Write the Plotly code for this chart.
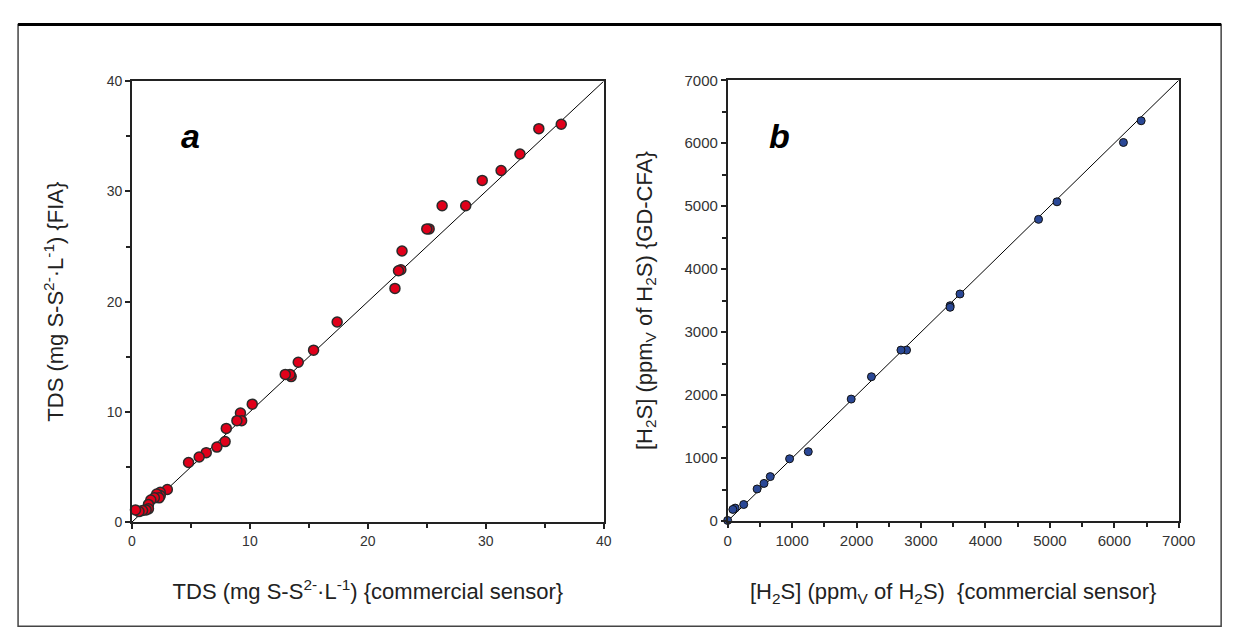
import plotly.graph_objects as go

# panel a: TDS, commercial sensor vs FIA (mg S-S2-/L)
tds_sensor = [36.4, 34.5, 32.9, 31.3, 29.7, 28.3, 26.3, 25.2, 25.0, 22.9, 22.8, 22.6, 22.3,
              17.4, 15.4, 14.1, 13.5, 13.4, 13.0, 10.2, 9.2, 9.3, 8.9, 8.0, 7.9, 7.2,
              6.3, 5.7, 4.8, 3.0, 2.4, 2.4, 2.1, 2.3, 1.9, 1.6, 1.4, 1.4, 1.2, 0.9, 0.6, 0.3]
tds_fia = [36.1, 35.7, 33.4, 31.9, 31.0, 28.7, 28.7, 26.6, 26.6, 24.6, 22.9, 22.8, 21.2,
           18.15, 15.6, 14.5, 13.2, 13.4, 13.4, 10.7, 9.9, 9.2, 9.2, 8.5, 7.3, 6.8,
           6.3, 5.9, 5.4, 2.95, 2.7, 2.4, 2.55, 2.2, 2.2, 2.0, 1.6, 1.2, 1.1, 1.05, 0.95, 1.1]

# panel b: H2S, commercial sensor vs GD-CFA (ppmv)
h2s_sensor = [6416, 6141, 5110, 4824, 3605, 3452, 3452, 2776, 2689, 2231, 1917,
              1251, 961, 661, 564, 457, 249, 117, 81, 0]
h2s_cfa = [6357, 6012, 5070, 4791, 3606, 3420, 3395, 2715, 2715, 2292, 1937,
           1102, 989, 706, 598, 510, 263, 206, 185, 10]

font = "Liberation Sans, Arial, sans-serif"

fig = go.Figure()

fig.add_trace(go.Scatter(x=[0, 40], y=[0, 40], mode="lines",
                         line=dict(color="black", width=1), xaxis="x", yaxis="y",
                         showlegend=False, hoverinfo="skip"))
fig.add_trace(go.Scatter(x=tds_sensor, y=tds_fia, mode="markers", xaxis="x", yaxis="y",
                         marker=dict(size=10, color="#e0001a", line=dict(color="#2a2a2a", width=1.5)),
                         cliponaxis=False, showlegend=False))

fig.add_trace(go.Scatter(x=[0, 7000], y=[0, 7000], mode="lines",
                         line=dict(color="black", width=1), xaxis="x2", yaxis="y2",
                         showlegend=False, hoverinfo="skip"))
fig.add_trace(go.Scatter(x=h2s_sensor, y=h2s_cfa, mode="markers", xaxis="x2", yaxis="y2",
                         marker=dict(size=8, color="#2a4896", line=dict(color="#111111", width=1)),
                         cliponaxis=False, showlegend=False))

axis_common = dict(showgrid=False, zeroline=False, showline=True, linecolor="#222",
                   linewidth=1.5, mirror=True, ticks="outside", ticklen=5, tickwidth=2,
                   tickcolor="#222")
title_font = dict(family=font, size=22, color="#222")

fig.update_layout(
    width=1235, height=633,
    margin=dict(l=0, r=0, t=0, b=0),
    paper_bgcolor="white", plot_bgcolor="white",
    font=dict(family=font),
    xaxis=dict(domain=[0.0988, 0.4874], range=[0, 40], dtick=10,
               minor=dict(dtick=5, ticks="outside", ticklen=4, tickcolor="#222"),
               tickfont=dict(family=font, size=14, color="#333"),
               title=dict(text="TDS (mg S-S<sup>2-</sup>·L<sup>-1</sup>) {commercial sensor}",
                          font=title_font, standoff=36),
               anchor="y", **axis_common),
    yaxis=dict(domain=[0.1801, 0.8957], range=[0, 40], dtick=10,
               minor=dict(dtick=5, ticks="outside", ticklen=4, tickcolor="#222"),
               tickfont=dict(family=font, size=14, color="#333"),
               title=dict(text="TDS (mg S-S<sup>2-</sup>·L<sup>-1</sup>) {FIA}",
                          font=title_font, standoff=37),
               anchor="x", **axis_common),
    xaxis2=dict(domain=[0.5895, 0.9611], range=[0, 7000], dtick=1000,
                minor=dict(dtick=500, ticks="outside", ticklen=4, tickcolor="#222"),
                tickfont=dict(family=font, size=15, color="#333"),
                title=dict(text="[H<sub>2</sub>S] (ppm<sub>V</sub> of H<sub>2</sub>S)  {commercial sensor}",
                           font=title_font, standoff=36),
                anchor="y2", **axis_common),
    yaxis2=dict(domain=[0.1817, 0.8973], range=[0, 7000], dtick=1000,
                minor=dict(dtick=500, ticks="outside", ticklen=4, tickcolor="#222"),
                tickfont=dict(family=font, size=15, color="#333"),
                title=dict(text="[H<sub>2</sub>S] (ppm<sub>V</sub> of H<sub>2</sub>S) {GD-CFA}",
                           font=title_font, standoff=26),
                anchor="x2", **axis_common),
)

# panel letters
fig.add_annotation(x=5.0, y=35.0, xref="x", yref="y", text="<b><i>a</i></b>", showarrow=False,
                   font=dict(family=font, size=34, color="black"))
fig.add_annotation(x=810, y=6120, xref="x2", yref="y2", text="<b><i>b</i></b>", showarrow=False,
                   font=dict(family=font, size=34, color="black"))

# outer frame
fig.add_shape(type="rect", xref="paper", yref="paper", x0=0.005, x1=0.996, y0=0.011, y1=0.988,
              line=dict(color="#444", width=1.5))
fig.add_shape(type="line", xref="paper", yref="paper", x0=0.005, x1=0.996, y0=0.988, y1=0.988,
              line=dict(color="black", width=3))

fig.write_html("out.html")
